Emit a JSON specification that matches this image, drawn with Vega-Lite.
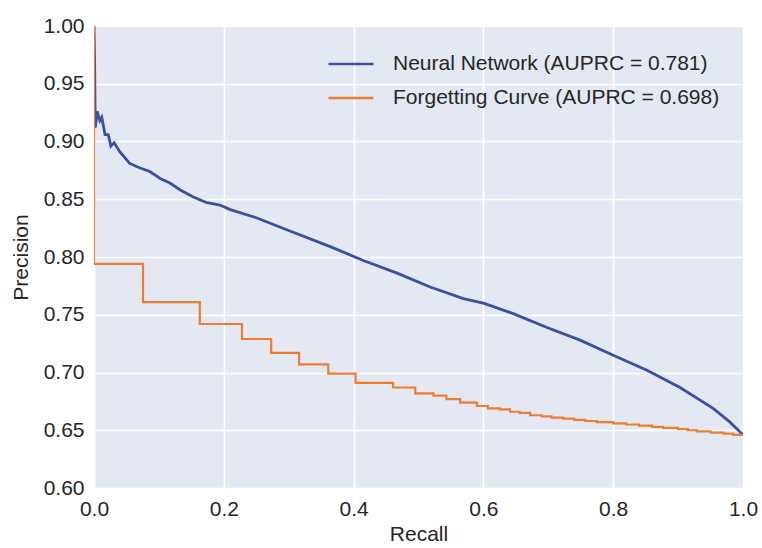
{
  "$schema": "https://vega.github.io/schema/vega-lite/v6.json",
  "width": 649,
  "height": 462,
  "autosize": {"type": "none"},
  "padding": {"left": 94, "top": 26, "right": 19, "bottom": 60},
  "background": "white",
  "config": {
    "view": {"fill": "#E3E8F2", "stroke": null},
    "font": "Liberation Sans",
    "axis": {
      "domain": false,
      "ticks": false,
      "gridColor": "white",
      "gridWidth": 1.6,
      "labelFont": "Liberation Sans",
      "labelFontSize": 21,
      "labelColor": "#262626",
      "titleFont": "Liberation Sans",
      "titleFontSize": 21,
      "titleFontWeight": "normal",
      "titleColor": "#262626",
      "labelFlush": false,
      "labelOverlap": false,
      "labelBound": false
    }
  },
  "data": {
    "values": [
      {"series": "Neural Network (AUPRC = 0.781)", "recall": 0.0, "precision": 1.0},
      {"series": "Neural Network (AUPRC = 0.781)", "recall": 0.0008, "precision": 0.975},
      {"series": "Neural Network (AUPRC = 0.781)", "recall": 0.0015, "precision": 0.936},
      {"series": "Neural Network (AUPRC = 0.781)", "recall": 0.002, "precision": 0.912},
      {"series": "Neural Network (AUPRC = 0.781)", "recall": 0.005, "precision": 0.926},
      {"series": "Neural Network (AUPRC = 0.781)", "recall": 0.009, "precision": 0.918},
      {"series": "Neural Network (AUPRC = 0.781)", "recall": 0.012, "precision": 0.921},
      {"series": "Neural Network (AUPRC = 0.781)", "recall": 0.017, "precision": 0.906},
      {"series": "Neural Network (AUPRC = 0.781)", "recall": 0.022, "precision": 0.906},
      {"series": "Neural Network (AUPRC = 0.781)", "recall": 0.026, "precision": 0.896},
      {"series": "Neural Network (AUPRC = 0.781)", "recall": 0.031, "precision": 0.899},
      {"series": "Neural Network (AUPRC = 0.781)", "recall": 0.04, "precision": 0.891},
      {"series": "Neural Network (AUPRC = 0.781)", "recall": 0.055, "precision": 0.881},
      {"series": "Neural Network (AUPRC = 0.781)", "recall": 0.071, "precision": 0.877},
      {"series": "Neural Network (AUPRC = 0.781)", "recall": 0.086, "precision": 0.874},
      {"series": "Neural Network (AUPRC = 0.781)", "recall": 0.102, "precision": 0.868},
      {"series": "Neural Network (AUPRC = 0.781)", "recall": 0.117, "precision": 0.864},
      {"series": "Neural Network (AUPRC = 0.781)", "recall": 0.133, "precision": 0.858},
      {"series": "Neural Network (AUPRC = 0.781)", "recall": 0.153, "precision": 0.852},
      {"series": "Neural Network (AUPRC = 0.781)", "recall": 0.174, "precision": 0.847},
      {"series": "Neural Network (AUPRC = 0.781)", "recall": 0.194, "precision": 0.845},
      {"series": "Neural Network (AUPRC = 0.781)", "recall": 0.21, "precision": 0.841},
      {"series": "Neural Network (AUPRC = 0.781)", "recall": 0.25, "precision": 0.834},
      {"series": "Neural Network (AUPRC = 0.781)", "recall": 0.3, "precision": 0.823},
      {"series": "Neural Network (AUPRC = 0.781)", "recall": 0.364, "precision": 0.809},
      {"series": "Neural Network (AUPRC = 0.781)", "recall": 0.415, "precision": 0.797},
      {"series": "Neural Network (AUPRC = 0.781)", "recall": 0.467, "precision": 0.786},
      {"series": "Neural Network (AUPRC = 0.781)", "recall": 0.518, "precision": 0.774},
      {"series": "Neural Network (AUPRC = 0.781)", "recall": 0.569, "precision": 0.764},
      {"series": "Neural Network (AUPRC = 0.781)", "recall": 0.6, "precision": 0.76},
      {"series": "Neural Network (AUPRC = 0.781)", "recall": 0.646, "precision": 0.751},
      {"series": "Neural Network (AUPRC = 0.781)", "recall": 0.698, "precision": 0.739},
      {"series": "Neural Network (AUPRC = 0.781)", "recall": 0.749, "precision": 0.728},
      {"series": "Neural Network (AUPRC = 0.781)", "recall": 0.8, "precision": 0.715},
      {"series": "Neural Network (AUPRC = 0.781)", "recall": 0.852, "precision": 0.702},
      {"series": "Neural Network (AUPRC = 0.781)", "recall": 0.903, "precision": 0.687},
      {"series": "Neural Network (AUPRC = 0.781)", "recall": 0.954, "precision": 0.669},
      {"series": "Neural Network (AUPRC = 0.781)", "recall": 0.98, "precision": 0.657},
      {"series": "Neural Network (AUPRC = 0.781)", "recall": 1.0, "precision": 0.646},
      {"series": "Forgetting Curve (AUPRC = 0.698)", "recall": 0.0, "precision": 1.0},
      {"series": "Forgetting Curve (AUPRC = 0.698)", "recall": 0.0, "precision": 0.794},
      {"series": "Forgetting Curve (AUPRC = 0.698)", "recall": 0.0755, "precision": 0.761},
      {"series": "Forgetting Curve (AUPRC = 0.698)", "recall": 0.163, "precision": 0.742},
      {"series": "Forgetting Curve (AUPRC = 0.698)", "recall": 0.228, "precision": 0.729},
      {"series": "Forgetting Curve (AUPRC = 0.698)", "recall": 0.273, "precision": 0.717},
      {"series": "Forgetting Curve (AUPRC = 0.698)", "recall": 0.316, "precision": 0.707},
      {"series": "Forgetting Curve (AUPRC = 0.698)", "recall": 0.361, "precision": 0.699},
      {"series": "Forgetting Curve (AUPRC = 0.698)", "recall": 0.403, "precision": 0.691},
      {"series": "Forgetting Curve (AUPRC = 0.698)", "recall": 0.461, "precision": 0.687},
      {"series": "Forgetting Curve (AUPRC = 0.698)", "recall": 0.495, "precision": 0.682},
      {"series": "Forgetting Curve (AUPRC = 0.698)", "recall": 0.523, "precision": 0.68},
      {"series": "Forgetting Curve (AUPRC = 0.698)", "recall": 0.543, "precision": 0.677},
      {"series": "Forgetting Curve (AUPRC = 0.698)", "recall": 0.564, "precision": 0.674},
      {"series": "Forgetting Curve (AUPRC = 0.698)", "recall": 0.59, "precision": 0.671},
      {"series": "Forgetting Curve (AUPRC = 0.698)", "recall": 0.607, "precision": 0.669},
      {"series": "Forgetting Curve (AUPRC = 0.698)", "recall": 0.625, "precision": 0.668},
      {"series": "Forgetting Curve (AUPRC = 0.698)", "recall": 0.641, "precision": 0.666},
      {"series": "Forgetting Curve (AUPRC = 0.698)", "recall": 0.656, "precision": 0.665},
      {"series": "Forgetting Curve (AUPRC = 0.698)", "recall": 0.672, "precision": 0.663},
      {"series": "Forgetting Curve (AUPRC = 0.698)", "recall": 0.69, "precision": 0.662},
      {"series": "Forgetting Curve (AUPRC = 0.698)", "recall": 0.705, "precision": 0.661},
      {"series": "Forgetting Curve (AUPRC = 0.698)", "recall": 0.723, "precision": 0.66},
      {"series": "Forgetting Curve (AUPRC = 0.698)", "recall": 0.74, "precision": 0.659},
      {"series": "Forgetting Curve (AUPRC = 0.698)", "recall": 0.757, "precision": 0.658},
      {"series": "Forgetting Curve (AUPRC = 0.698)", "recall": 0.775, "precision": 0.657},
      {"series": "Forgetting Curve (AUPRC = 0.698)", "recall": 0.8, "precision": 0.656},
      {"series": "Forgetting Curve (AUPRC = 0.698)", "recall": 0.82, "precision": 0.655},
      {"series": "Forgetting Curve (AUPRC = 0.698)", "recall": 0.84, "precision": 0.654},
      {"series": "Forgetting Curve (AUPRC = 0.698)", "recall": 0.86, "precision": 0.653},
      {"series": "Forgetting Curve (AUPRC = 0.698)", "recall": 0.877, "precision": 0.652},
      {"series": "Forgetting Curve (AUPRC = 0.698)", "recall": 0.9, "precision": 0.651},
      {"series": "Forgetting Curve (AUPRC = 0.698)", "recall": 0.915, "precision": 0.65},
      {"series": "Forgetting Curve (AUPRC = 0.698)", "recall": 0.929, "precision": 0.649},
      {"series": "Forgetting Curve (AUPRC = 0.698)", "recall": 0.95, "precision": 0.648},
      {"series": "Forgetting Curve (AUPRC = 0.698)", "recall": 0.97, "precision": 0.647},
      {"series": "Forgetting Curve (AUPRC = 0.698)", "recall": 0.985, "precision": 0.646},
      {"series": "Forgetting Curve (AUPRC = 0.698)", "recall": 1.0, "precision": 0.645}
    ]
  },
  "layer": [
    {
      "transform": [{"filter": "datum.series == 'Neural Network (AUPRC = 0.781)'"}],
      "mark": {"type": "line", "strokeWidth": 2.8, "clip": true},
      "encoding": {
        "x": {"field": "recall", "type": "quantitative", "scale": {"domain": [0, 1], "nice": false, "zero": false},
              "axis": {"title": "Recall", "values": [0, 0.2, 0.4, 0.6, 0.8, 1.0], "format": ".1f", "labelPadding": 10, "titlePadding": 4}},
        "y": {"field": "precision", "type": "quantitative", "scale": {"domain": [0.6, 1.0], "nice": false, "zero": false},
              "axis": {"title": "Precision", "values": [0.6, 0.65, 0.7, 0.75, 0.8, 0.85, 0.9, 0.95, 1.0], "format": ".2f", "labelPadding": 10, "titlePadding": 12}},
        "color": {"field": "series", "type": "nominal",
                  "scale": {"domain": ["Neural Network (AUPRC = 0.781)", "Forgetting Curve (AUPRC = 0.698)"], "range": ["#3B50A3", "#EE7D32"]},
                  "legend": {"title": null, "orient": "none", "legendX": 233, "legendY": 14, "symbolType": "stroke", "symbolSize": 2025, "symbolStrokeWidth": 2.5, "labelFontSize": 21, "labelFont": "Liberation Sans", "labelColor": "#262626", "labelOffset": 18, "labelLimit": 0, "rowPadding": -10, "fillColor": null, "strokeColor": null}},
        "order": {"field": "recall", "type": "quantitative"}
      }
    },
    {
      "transform": [{"filter": "datum.series == 'Forgetting Curve (AUPRC = 0.698)'"}],
      "mark": {"type": "line", "strokeWidth": 2.2, "interpolate": "step-after", "clip": true},
      "encoding": {
        "x": {"field": "recall", "type": "quantitative"},
        "y": {"field": "precision", "type": "quantitative"},
        "color": {"field": "series", "type": "nominal"}
      }
    }
  ]
}
